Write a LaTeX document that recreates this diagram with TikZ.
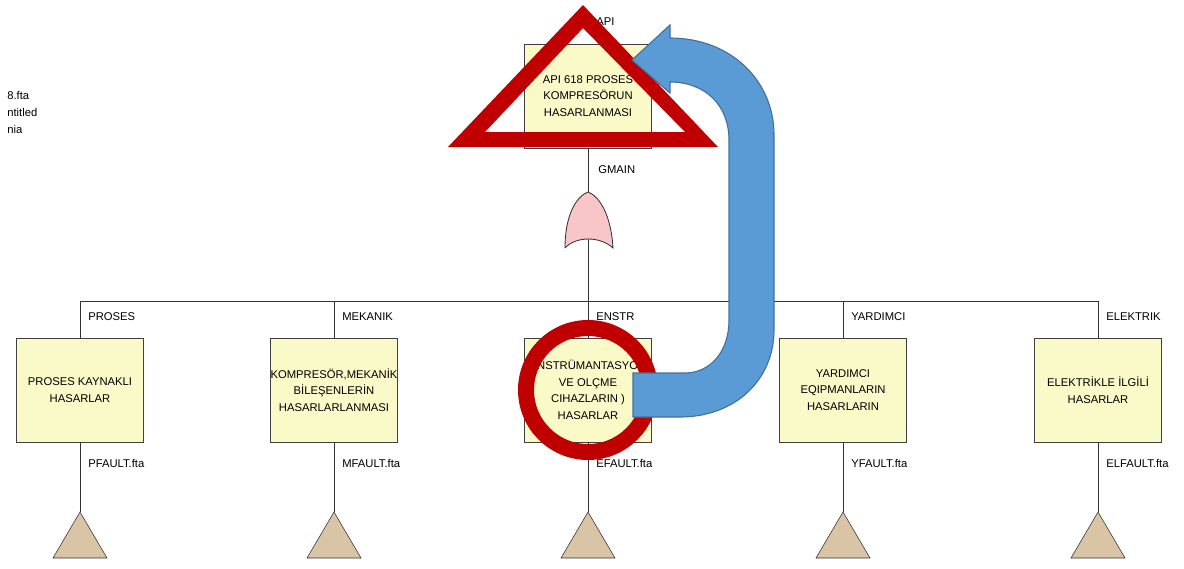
\documentclass[tikz,border=0pt]{standalone}
\usepackage{fontspec}
\setmainfont{Liberation Sans}
\usetikzlibrary{positioning}

\definecolor{boxfill}{RGB}{250,249,200}
\definecolor{gatefill}{RGB}{248,198,200}
\definecolor{xferfill}{RGB}{217,196,166}
\definecolor{markred}{RGB}{192,0,0}
\definecolor{arrowblue}{RGB}{91,155,213}
\definecolor{arrowedge}{RGB}{65,113,156}

\tikzset{
  event/.style={draw=black!75, fill=boxfill, minimum width=3.175cm, minimum height=2.6cm,
    inner sep=0pt, align=center, font=\fontsize{8}{11.8}\selectfont},
  tag/.style={anchor=west, inner sep=0pt, font=\fontsize{8}{10}\selectfont},
  wire/.style={draw=black!80, line width=0.6pt},
  xfer/.style={draw=black!80, fill=xferfill},
}

\begin{document}
\begin{tikzpicture}[x=0.025cm, y=-0.025cm]
  \useasboundingbox (0,0) rectangle (1184,568);

  % file info, cut off at the left edge
  \node[tag] (f1) at (7,95) {8.fta};
  \node[tag] (f2) at (7,112) {ntitled};
  \node[tag] (f3) at (7,129) {nia};

  % top event and OR gate
  \node[event] (top) at (588,96) {API 618 PROSES\\KOMPRESÖRUN\\HASARLANMASI};
  \node[tag] (toptag) at (596,22) {API};
  \node[tag] (gatetag) at (598,170) {GMAIN};
  \coordinate (gtop) at (588,192);
  \coordinate (gbot) at (588,239);
  \coordinate (bus) at (588,301);
  \draw[wire] (top.south) -- (gtop);
  \draw[wire, fill=gatefill] (565,248) .. controls (565,214) and (577,196) .. (gtop)
    .. controls (599,196) and (611,214) .. (613,248)
    .. controls (600,236) and (576,236) .. (565,248);
  \draw[wire] (gbot) -- (bus);

  % the five branches with their transfer triangles
  \foreach \n/\x/\gname/\file/\txt in {
    1/80/PROSES/PFAULT.fta/{PROSES KAYNAKLI\\HASARLAR},
    2/334/MEKANIK/MFAULT.fta/{KOMPRESÖR,MEKANİK\\BİLEŞENLERİN\\HASARLARLANMASI},
    3/588/ENSTR/EFAULT.fta/{ENSTRÜMANTASYON\\VE OLÇME\\CIHAZLARIN )\\HASARLAR},
    4/843/YARDIMCI/YFAULT.fta/{YARDIMCI\\EQIPMANLARIN\\HASARLARIN},
    5/1098/ELEKTRIK/ELFAULT.fta/{ELEKTRİKLE İLGİLİ\\HASARLAR}}
  {
    \node[event] (b\n) at (\x,390) {\txt};
    \node[tag] (g\n) at (\x+8,317) {\gname};
    \node[tag] (p\n) at (\x+8,463) {\file};
    \coordinate (t\n) at (\x,512);
    \draw[wire] (b\n.north |- bus) -- (b\n.north);
    \draw[wire] (b\n.south) -- (t\n);
    \draw[xfer] (t\n) -- ++(-27,46) -- ++(54,0) -- cycle;
  }
  \draw[wire] (b1.north |- bus) -- (b5.north |- bus);

  % red marks
  \fill[markred, even odd rule] (583,5) -- (448,147) -- (718,147) -- cycle
    (583,28) -- (485,132) -- (685,132) -- cycle;
  \draw[markred, line width=0.4cm] (b3.center) circle[radius=62];

  % bent block arrow from the ring back up to the top event
  \draw[arrowedge, fill=arrowblue, line width=0.8pt]
    (633,417) -- (680,417) .. controls (735,417) and (774,380) .. (774,330)
    -- (774,135) .. controls (774,80) and (730,38) .. (670,38)
    -- (670,25) -- (632,60) -- (670,93) -- (670,82)
    .. controls (705,82) and (729,105) .. (729,140)
    -- (729,320) .. controls (729,352) and (710,373) .. (685,373)
    -- (633,373) -- cycle;
\end{tikzpicture}
\end{document}
